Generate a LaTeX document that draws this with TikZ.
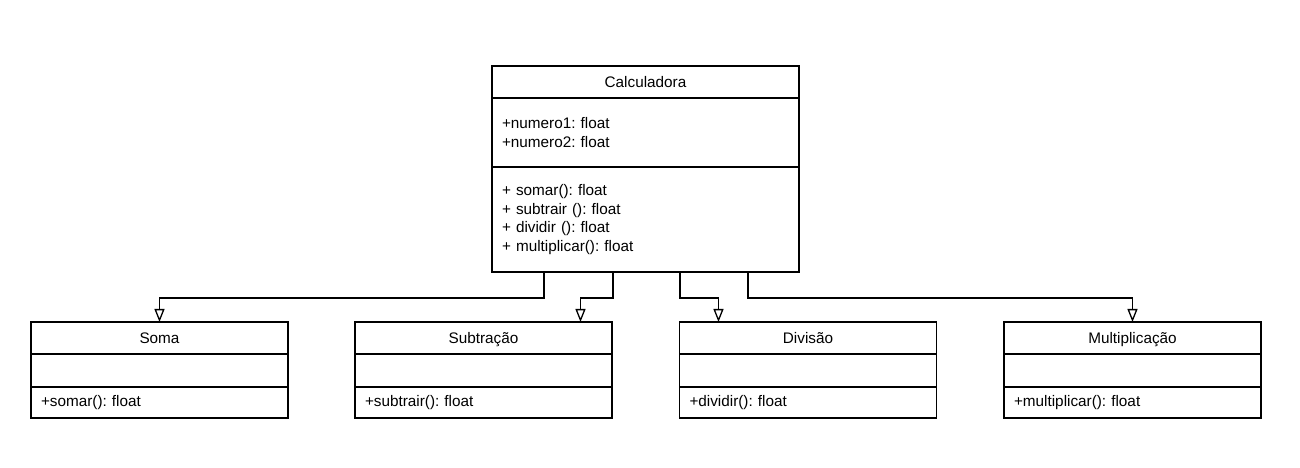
\documentclass[tikz,border=0pt]{standalone}
\usepackage{fontspec}
\setmainfont{Liberation Sans}
\usetikzlibrary{positioning,arrows.meta}
\frenchspacing

\tikzset{
    classname/.style={draw, line width=1.3pt, rectangle, inner sep=0pt, outer sep=0pt, minimum height=32pt, text height=11pt, text depth=0pt, align=center},
    classpart/.style={draw, line width=1.3pt, rectangle, inner xsep=10pt, inner ysep=0pt, outer sep=0pt, align=left},
    gen/.style={line width=1.3pt, -{Triangle[open, length=13pt, width=10pt]}}
}

\begin{document}
\begin{tikzpicture}[x=1pt, y=1pt, font=\fontsize{15.3}{18.6}\selectfont]
    \useasboundingbox (0,0) rectangle (1300,468);

    % Class Calculadora
    \node [classname, minimum width=307pt] (calc) at (645.5,386) {Calculadora};
    \node [classpart, text width=287pt, minimum height=69pt, below=0pt of calc] (calcAttr) {+numero1: float\\+numero2: float};
    \node [classpart, text width=287pt, minimum height=105pt, below=0pt of calcAttr] (calcOps) {+ somar(): float\\+ subtrair (): float\\+ dividir (): float\\+ multiplicar(): float};

    % Class Soma
    \node [classname, minimum width=257pt] (soma) at (159.5,130) {Soma};
    \node [classpart, text width=237pt, minimum height=33pt, below=0pt of soma] (somaAttr) {};
    \node [classpart, text width=237pt, minimum height=31pt, below=0pt of somaAttr] (somaOps) {+somar(): float};

    % Class Subtracao
    \node [classname, minimum width=257pt] (subt) at (483.5,130) {Subtração};
    \node [classpart, text width=237pt, minimum height=33pt, below=0pt of subt] (subtAttr) {};
    \node [classpart, text width=237pt, minimum height=31pt, below=0pt of subtAttr] (subtOps) {+subtrair(): float};

    % Class Divisao
    \node [classname, minimum width=257pt] (divi) at (808,130) {Divisão};
    \node [classpart, text width=237pt, minimum height=33pt, below=0pt of divi] (diviAttr) {};
    \node [classpart, text width=237pt, minimum height=31pt, below=0pt of diviAttr] (diviOps) {+dividir(): float};

    % Class Multiplicacao
    \node [classname, minimum width=257pt] (mult) at (1132.5,130) {Multiplicação};
    \node [classpart, text width=237pt, minimum height=33pt, below=0pt of mult] (multAttr) {};
    \node [classpart, text width=237pt, minimum height=31pt, below=0pt of multAttr] (multOps) {+multiplicar(): float};

    % Branch points and bus line
    \coordinate (bus) at (0,170);
    \coordinate (b1) at ([xshift=-101.5pt]calcOps.south);
    \coordinate (b2) at ([xshift=-32.5pt]calcOps.south);
    \coordinate (b3) at ([xshift=34.5pt]calcOps.south);
    \coordinate (b4) at ([xshift=102.5pt]calcOps.south);

    % Generalizations
    \draw [gen] (b1) -- (b1 |- bus) -| (soma.north);
    \draw [gen] (b2) -- (b2 |- bus) -| ([xshift=97pt]subt.north);
    \draw [gen] (b3) -- (b3 |- bus) -| ([xshift=-89.5pt]divi.north);
    \draw [gen] (b4) -- (b4 |- bus) -| (mult.north);

\end{tikzpicture}
\end{document}
